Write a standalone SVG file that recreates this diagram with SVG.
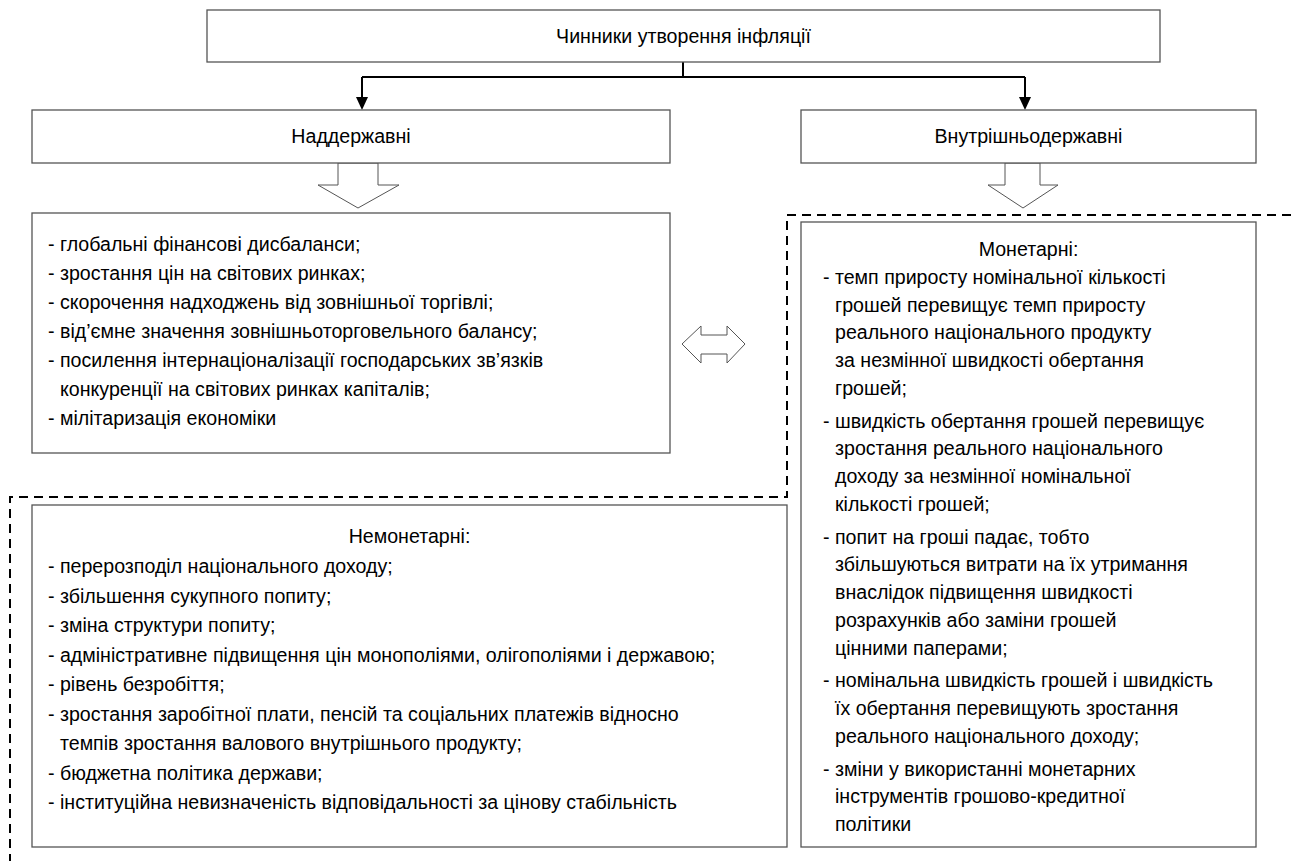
<svg xmlns="http://www.w3.org/2000/svg" width="1291" height="861" viewBox="0 0 1291 861">
<style>
.box{fill:#fff;stroke:#555;stroke-width:1.3}
.t{font-family:"Liberation Sans",Arial,sans-serif;font-size:19.6px;fill:#000}
.c{text-anchor:middle}
.conn{fill:none;stroke:#000;stroke-width:2}
.head{fill:#000}
.hollow{fill:#fff;stroke:#555;stroke-width:1}
.dash{fill:none;stroke:#000;stroke-width:2;stroke-dasharray:9,6}
</style>
<rect width="1291" height="861" fill="#fff"/>

<g id="connectors">
<path class="conn" d="M683,62 V77 M362,77 H1025"/>
<path class="conn" d="M362,77 V97"/>
<polygon class="head" points="356,97 368,97 362,110"/>
<path class="conn" d="M1025,77 V97"/>
<polygon class="head" points="1019,97 1031,97 1025,110"/>
<polygon class="hollow" points="338,163 378,163 378,185 399,185 358,208 318,185 338,185"/>
<polygon class="hollow" points="1005,163 1040,163 1040,185 1058,185 1023,208 988,185 1005,185"/>
<polygon class="hollow" points="682,344 701,326 701,335 727,335 727,326 745,344 727,363 727,354 701,354 701,363"/>
<path class="dash" d="M1291,215 H787 V497 H10 V861"/>
</g>

<g id="node-root">
<rect class="box" x="207" y="10" width="953" height="52"/>
<text class="t c" x="683.5" y="43">Чинники утворення інфляції</text>
</g>

<g id="node-supra">
<rect class="box" x="32" y="110" width="638" height="53"/>
<text class="t c" x="351" y="143">Наддержавні</text>
</g>

<g id="node-domestic">
<rect class="box" x="801" y="110" width="455" height="53"/>
<text class="t c" x="1028.5" y="143">Внутрішньодержавні</text>
</g>

<g id="node-supra-list">
<rect class="box" x="32" y="213" width="638" height="240"/>
<text class="t" x="48" y="251">- глобальні фінансові дисбаланси;</text>
<text class="t" x="48" y="280">- зростання цін на світових ринках;</text>
<text class="t" x="48" y="309">- скорочення надходжень від зовнішньої торгівлі;</text>
<text class="t" x="48" y="338">- від’ємне значення зовнішньоторговельного балансу;</text>
<text class="t" x="48" y="367">- посилення інтернаціоналізації господарських зв’язків</text>
<text class="t" x="60" y="396">конкуренції на світових ринках капіталів;</text>
<text class="t" x="48" y="425">- мілітаризація економіки</text>
</g>

<g id="node-monetary">
<rect class="box" x="801" y="222" width="455" height="625"/>
<text class="t c" x="1028.5" y="256">Монетарні:</text>
<text class="t" x="823" y="283.75">- темп приросту номінальної кількості</text>
<text class="t" x="835" y="311.5">грошей перевищує темп приросту</text>
<text class="t" x="835" y="339.25">реального національного продукту</text>
<text class="t" x="835" y="367">за незмінної швидкості обертання</text>
<text class="t" x="835" y="394.75">грошей;</text>
<text class="t" x="823" y="427.5">- швидкість обертання грошей перевищує</text>
<text class="t" x="835" y="455.25">зростання реального національного</text>
<text class="t" x="835" y="483">доходу за незмінної номінальної</text>
<text class="t" x="835" y="510.75">кількості грошей;</text>
<text class="t" x="823" y="543.5">- попит на гроші падає, тобто</text>
<text class="t" x="835" y="571.25">збільшуються витрати на їх утримання</text>
<text class="t" x="835" y="599">внаслідок підвищення швидкості</text>
<text class="t" x="835" y="626.75">розрахунків або заміни грошей</text>
<text class="t" x="835" y="654.5">цінними паперами;</text>
<text class="t" x="823" y="687.25">- номінальна швидкість грошей і швидкість</text>
<text class="t" x="835" y="715">їх обертання перевищують зростання</text>
<text class="t" x="835" y="742.75">реального національного доходу;</text>
<text class="t" x="823" y="775.5">- зміни у використанні монетарних</text>
<text class="t" x="835" y="803.25">інструментів грошово-кредитної</text>
<text class="t" x="835" y="831">політики</text>
</g>

<g id="node-nonmonetary">
<rect class="box" x="32" y="505" width="755" height="342"/>
<text class="t c" x="409.5" y="543">Немонетарні:</text>
<text class="t" x="48" y="573">- перерозподіл національного доходу;</text>
<text class="t" x="48" y="602.5">- збільшення сукупного попиту;</text>
<text class="t" x="48" y="632">- зміна структури попиту;</text>
<text class="t" x="48" y="661.5">- адміністративне підвищення цін монополіями, олігополіями і державою;</text>
<text class="t" x="48" y="691">- рівень безробіття;</text>
<text class="t" x="48" y="720.5">- зростання заробітної плати, пенсій та соціальних платежів відносно</text>
<text class="t" x="60" y="750">темпів зростання валового внутрішнього продукту;</text>
<text class="t" x="48" y="779.5">- бюджетна політика держави;</text>
<text class="t" x="48" y="809">- інституційна невизначеність відповідальності за цінову стабільність</text>
</g>
</svg>
